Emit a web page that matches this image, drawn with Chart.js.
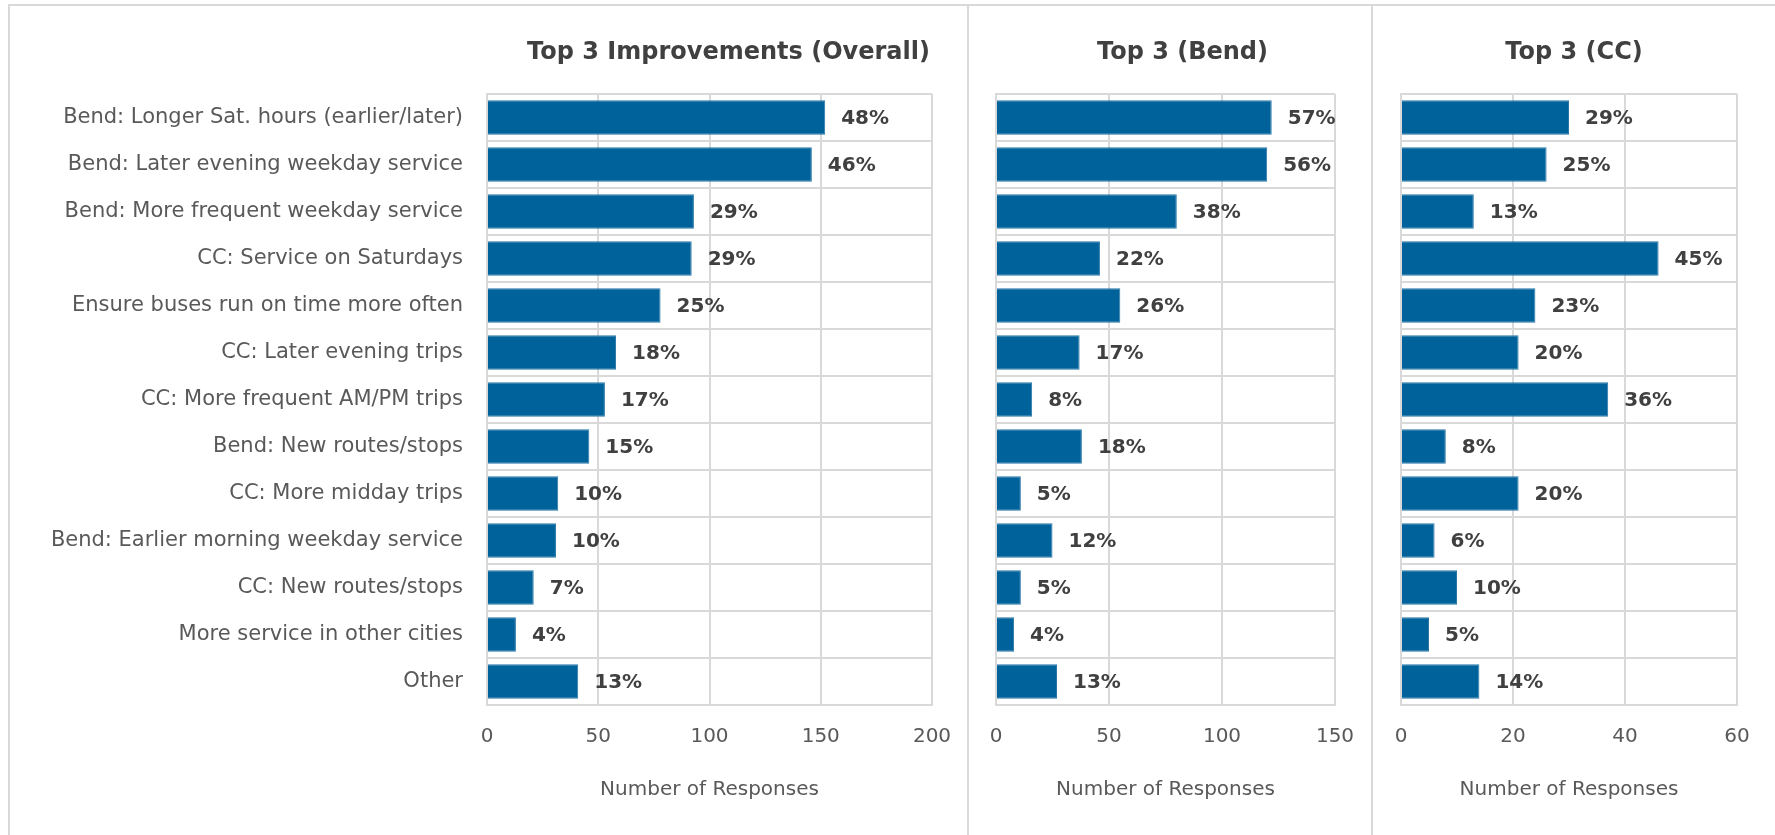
<!DOCTYPE html>
<html>
<head>
<meta charset="utf-8">
<script src="https://cdn.jsdelivr.net/npm/chart.js@4"></script>
<style>
  html, body { margin: 0; padding: 0; background: #fff; }
  #wrap { position: relative; width: 1775px; height: 835px; overflow: hidden; }
  .cv { position: absolute; top: 5px; height: 830px; }
  .line { position: absolute; background: #d9d9d9; }
</style>
</head>
<body>
<div id="wrap">
  <div class="line" style="left:8px;top:4px;width:1767px;height:2px"></div>
  <div class="line" style="left:8px;top:4px;width:2px;height:831px"></div>
  <div class="line" style="left:967px;top:4px;width:2px;height:831px"></div>
  <div class="line" style="left:1371px;top:4px;width:2px;height:831px"></div>
  <div class="cv" style="left:10px;width:957px"><canvas id="overall"></canvas></div>
  <div class="cv" style="left:969px;width:402px"><canvas id="bend"></canvas></div>
  <div class="cv" style="left:1373px;width:402px"><canvas id="cc"></canvas></div>
</div>
<script>
// categories (top to bottom)
const categories = [
  'Bend: Longer Sat. hours (earlier/later)',
  'Bend: Later evening weekday service',
  'Bend: More frequent weekday service',
  'CC: Service on Saturdays',
  'Ensure buses run on time more often',
  'CC: Later evening trips',
  'CC: More frequent AM/PM trips',
  'Bend: New routes/stops',
  'CC: More midday trips',
  'Bend: Earlier morning weekday service',
  'CC: New routes/stops',
  'More service in other cities',
  'Other'
];

// number of responses
const overallCounts = [152, 146, 93, 92, 78, 58, 53, 46, 32, 31, 21, 13, 41];
const bendCounts = [122, 120, 80, 46, 55, 37, 16, 38, 11, 25, 11, 8, 27];
const ccCounts = [30, 26, 13, 46, 24, 21, 37, 8, 21, 6, 10, 5, 14];

// percent labels shown at bar ends
const overallPct = ['48%', '46%', '29%', '29%', '25%', '18%', '17%', '15%', '10%', '10%', '7%', '4%', '13%'];
const bendPct = ['57%', '56%', '38%', '22%', '26%', '17%', '8%', '18%', '5%', '12%', '5%', '4%', '13%'];
const ccPct = ['29%', '25%', '13%', '45%', '23%', '20%', '36%', '8%', '20%', '6%', '10%', '5%', '14%'];

const FONT = "'DejaVu Sans', sans-serif";
const GRID = '#d9d9d9';
const BAR = '#00629b';

// percent label to the right of each bar + panel title above the plot
const panelDecor = {
    id: 'panelDecor',
    afterDatasetsDraw(chart) {
        const opts = chart.options.plugins.panelDecor;
        const ctx = chart.ctx;
        const meta = chart.getDatasetMeta(0);
        ctx.save();
        ctx.font = 'bold 20px ' + FONT;
        ctx.fillStyle = '#404040';
        ctx.textAlign = 'left';
        ctx.textBaseline = 'middle';
        meta.data.forEach((bar, i) => {
            ctx.fillText(opts.labels[i], bar.x + 16, bar.y + 1);
        });

        const area = chart.chartArea;
        ctx.font = 'bold 24px ' + FONT;
        ctx.textAlign = 'center';
        ctx.fillText(opts.title, (area.left + area.right) / 2 + opts.titleShift, 48);
        ctx.restore();
    }
};

function makeChart(id, title, titleShift, counts, pct, max, step, yWidth, showLabels, rightPad) {
    const ctx = document.getElementById(id).getContext('2d');
    return new Chart(ctx, {
        type: 'bar',
        data: {
            labels: categories,
            datasets: [{
                data: counts,
                backgroundColor: BAR,
                borderColor: '#2a78a8',
                borderWidth: 1,
                barPercentage: 0.73,
                categoryPercentage: 1
            }]
        },
        plugins: [panelDecor],
        options: {
            indexAxis: 'y',
            responsive: true,
            maintainAspectRatio: false,
            animation: false,
            layout: { padding: { left: 0, right: rightPad, top: 89, bottom: 0 } },
            plugins: {
                legend: { display: false },
                tooltip: { enabled: false },
                panelDecor: { labels: pct, title: title, titleShift: titleShift }
            },
            scales: {
                x: {
                    min: 0,
                    max: max,
                    ticks: {
                        stepSize: step,
                        color: '#595959',
                        font: { family: FONT, size: 20 },
                        padding: 20
                    },
                    grid: { color: GRID, lineWidth: 2, drawTicks: false },
                    border: { color: GRID, width: 2 },
                    title: {
                        display: true,
                        text: 'Number of Responses',
                        color: '#595959',
                        font: { family: FONT, size: 20 },
                        padding: { top: 0, bottom: 33 }
                    },
                    afterFit(s) {
                        s.height = 130;
                        s.paddingLeft = 0;
                        s.paddingRight = 0;
                    }
                },
                y: {
                    ticks: {
                        display: showLabels,
                        color: '#595959',
                        font: { family: FONT, size: 21 },
                        padding: 24
                    },
                    grid: { color: GRID, lineWidth: 2, offset: true, drawTicks: false },
                    border: { color: GRID, width: 2 },
                    afterFit(s) { s.width = yWidth; }
                }
            }
        }
    });
}

makeChart('overall', 'Top 3 Improvements (Overall)', 19, overallCounts, overallPct, 200, 50, 477, true, 35);
makeChart('bend', 'Top 3 (Bend)', 17, bendCounts, bendPct, 150, 50, 27, false, 36);
makeChart('cc', 'Top 3 (CC)', 5, ccCounts, ccPct, 60, 20, 28, false, 38);
</script>
</body>
</html>
